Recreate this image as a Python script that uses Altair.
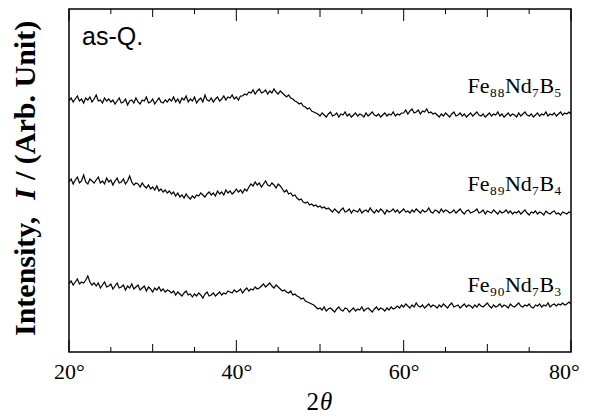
import altair as alt
import pandas as pd
import numpy as np

# ---- data (values in arbitrary intensity units) ----
series_names = ["Fe88Nd7B5", "Fe89Nd7B4", "Fe90Nd7B3"]
label_texts = ["Fe₈₈Nd₇B₅", "Fe₈₉Nd₇B₄", "Fe₉₀Nd₇B₃"]
label_I = [259, 161, 60]
label_theta = 78.9

top_vals = [
    251, 254, 250, 253, 256, 251, 253, 249, 254, 252, 255, 250, 253, 257, 251, 252, 249, 254, 251, 253, 250,
    252, 248, 251, 254, 249, 250, 253, 247, 251, 252, 249, 254, 250, 248, 252, 251, 255, 249, 250, 253, 248, 251, 254, 250, 249, 252, 250, 253,
    251, 255, 250, 253, 249, 254, 252, 256, 250, 253, 251, 255, 249, 252, 254, 250, 257, 252, 251, 254, 250, 253, 255, 251,
    253, 256, 252, 255, 254, 257, 253, 255, 252, 256,
    256, 258, 257, 260,
    259, 262, 258, 261, 263, 259, 260, 262, 258, 261, 259, 263, 260, 258, 261, 259,
    257, 255, 257, 254, 253, 251,
    250, 248, 249, 246, 245, 243, 244, 241, 240, 239,
    238, 236, 239, 237, 235, 238, 240, 236, 237, 239, 235, 238, 237, 240, 236, 238, 235, 237, 239, 236,
    238, 237, 235, 239, 236, 238, 240, 237, 236, 238, 235, 237, 239, 236, 238, 237, 240, 236, 238, 237, 239,
    239, 242, 238, 241, 243, 239, 240, 242, 238, 241, 240, 243, 239, 240, 238, 239,
    237, 235, 238, 236, 239, 237, 235, 238, 240, 236, 237, 239, 236, 238, 235, 237, 239, 236, 238, 240,
    237, 236, 238, 235, 237, 239, 236, 238, 237, 240, 236, 238, 235, 237, 239, 236, 238, 237, 235, 239,
    236, 238, 240, 237, 236, 238, 235, 237, 239, 236, 238, 237, 240, 236, 238, 237, 239, 236, 238, 240,
    237, 239, 238, 240, 238,
]
mid_vals = [
    170, 173, 168, 172, 175, 169, 171, 177, 170, 168, 173, 171, 169,
    172, 175, 169, 171, 168, 174, 170, 172, 167, 171, 174, 169, 170, 173, 168, 171, 176, 170, 167, 169,
    168, 165, 169, 166, 164, 167, 163, 165, 162, 166, 161, 163, 160, 162, 159, 161,
    158, 160, 156, 159, 155, 157, 154, 158, 155, 153, 156, 154, 157,
    156, 159, 157, 155, 158, 160, 157, 159, 156, 161, 158, 160, 157, 162, 159, 161, 158, 160, 163, 160, 162, 159, 163, 161,
    165, 168, 166, 170, 167, 169, 165, 168, 171, 167, 166, 169, 167, 164, 168, 166,
    163, 160, 162, 158, 159, 156, 157, 154, 152, 153, 150,
    149, 150, 147, 148, 146, 147, 145, 146, 144, 145, 143, 144,
    142, 140, 143, 141, 139, 142, 144, 140, 141, 143, 139, 142, 141, 140, 143, 139, 141, 142, 140, 144,
    141, 139, 142, 140, 143, 141, 138, 142, 140, 141, 143, 140, 142, 139, 141, 143, 140, 141, 139, 142,
    140, 143, 141, 139, 142, 140, 141, 144, 140, 139, 142, 141, 139, 143, 140, 142, 141, 139, 140, 142,
    139, 141, 143, 140, 138, 141, 142, 139, 140, 141, 143, 139, 140, 142, 138, 141, 140, 139, 142, 140,
    138, 141, 139, 140, 142, 139, 141, 138, 140, 139, 141, 138, 140, 142, 139, 137, 140, 139, 141, 138,
    140, 139, 137, 141, 139, 138, 140, 141, 138, 139, 137, 140, 139, 138, 140, 139,
]
bot_vals = [
    68, 71, 67, 70, 73, 68, 70, 69, 72, 76, 70, 67, 69,
    66, 69, 64, 67, 70, 65, 66, 68, 63, 66, 69, 64, 65, 67, 62, 66, 64, 68, 63, 65,
    67, 62, 64, 66, 61, 65, 63, 60, 64, 62, 65, 61, 63, 60, 62, 61,
    59, 61, 57, 60, 58, 56, 59, 61, 57, 58, 55, 58, 56, 59, 57, 54, 58, 60, 56, 57,
    59, 56, 58, 60, 57, 59, 58, 61,
    60, 59, 62, 60, 61, 63, 59, 62, 64, 61, 63, 62, 65, 63, 64,
    66, 68, 65, 67, 69, 66, 64, 67, 65,
    63, 61, 62, 60, 59, 61, 57, 58, 56, 55, 53, 54, 51, 50, 49, 48, 47,
    45, 43, 44, 42, 45, 41, 43, 44, 42, 40, 43, 45, 42, 41, 44, 43, 40, 42, 44, 41,
    43, 42, 45, 41, 43, 44, 42, 40, 43, 45, 42, 44, 43, 41, 44, 42, 45, 43, 44,
    46, 44, 47, 45, 48, 46, 44, 47, 45, 49, 46, 45, 47, 44, 46, 48, 45, 47, 46, 44,
    47, 45, 48, 46, 44, 47, 49, 45, 46, 47, 44, 46, 48, 45, 47, 46, 44, 47, 45, 48,
    46, 45, 47, 49, 46, 44, 47, 45, 46, 48, 45, 47, 46, 44, 48, 46, 45, 47, 49, 46,
    45, 47, 46, 48, 45, 44, 47, 46, 48, 45, 47, 46, 49, 45, 47, 48, 46, 48, 47, 49,
    47, 48, 50, 48,
]

x_label_values = [20, 40, 60, 80]
major_ticks = [20, 40, 60, 80]
mid_ticks = [30, 50, 70]
minor_ticks = [25, 35, 45, 55, 65, 75]

# ---- build tables ----
rows = []
for name, vals in zip(series_names, [top_vals, mid_vals, bot_vals]):
    th = np.linspace(20, 80, len(vals))
    for t, v in zip(th, vals):
        rows.append({"series": name, "theta": float(t), "I": v})
df = pd.DataFrame(rows)
lab_df = pd.DataFrame({"theta": [label_theta] * 3, "I": label_I, "text": label_texts})

W, H = 502, 343
SERIF = "Liberation Serif"

xs = alt.Scale(domain=[20, 80], nice=False, zero=False)
ys = alt.Scale(domain=[0, 343], nice=False, zero=False)

x_axis = alt.Axis(
    values=x_label_values, labelExpr="datum.value + '°'", ticks=False, domain=False, grid=False,
    labelFont=SERIF, labelFontSize=22, labelColor="black", labelPadding=9, labelFlush=False,
    labelOffset={"condition": {"test": "datum.value == 80", "value": -7}, "value": 0},
    title=None,
)
y_axis = alt.Axis(ticks=False, labels=False, domain=False, grid=False, title=None)

lines = alt.Chart(df).mark_line(color="black", strokeWidth=1.2).encode(
    x=alt.X("theta:Q", scale=xs, axis=x_axis),
    y=alt.Y("I:Q", scale=ys, axis=y_axis),
    detail="series:N",
)

labels = alt.Chart(lab_df).mark_text(
    align="right", baseline="alphabetic", font=SERIF, fontSize=22, color="black"
).encode(
    x=alt.X("theta:Q", scale=xs, axis=x_axis),
    y=alt.Y("I:Q", scale=ys, axis=y_axis),
    text="text:N",
)


def txt(s, x, y, **kw):
    return alt.Chart(pd.DataFrame({"t": [s]})).mark_text(color="black", **kw).encode(
        x=alt.value(x), y=alt.value(y), text="t:N"
    )


asq = txt("as-Q.", 13, 36, align="left", baseline="alphabetic", font="Liberation Sans", fontSize=25)

# x title: "2" upright + italic theta
xt1 = txt("2", 250, 401, align="right", baseline="alphabetic", font=SERIF, fontSize=25)
xt2 = txt("θ", 251, 401, align="left", baseline="alphabetic", font=SERIF, fontSize=25, fontStyle="italic")

# y title: "Intensity, " bold + "I" bold italic + " / (Arb. Unit)" bold, rotated
YX = -34
YFS = 30
yt1 = txt("Intensity,", YX, 327, align="left", baseline="alphabetic", font=SERIF, fontSize=YFS,
          fontWeight="bold", angle=270)
yt2 = txt("I", YX, 191, align="left", baseline="alphabetic", font=SERIF, fontSize=YFS,
          fontWeight="bold", fontStyle="italic", angle=270)
yt3 = txt("/ (Arb. Unit)", YX, 171, align="left", baseline="alphabetic", font=SERIF, fontSize=YFS,
          fontWeight="bold", angle=270)


def tick_layers(vals, L):
    d = pd.DataFrame({"theta": vals})
    bottom = alt.Chart(d).mark_rule(color="black", strokeWidth=1).encode(
        x=alt.X("theta:Q", scale=xs, axis=x_axis), y=alt.value(H), y2=alt.value(H - L)
    )
    top = alt.Chart(d).mark_rule(color="black", strokeWidth=1).encode(
        x=alt.X("theta:Q", scale=xs, axis=x_axis), y=alt.value(0), y2=alt.value(L)
    )
    return [bottom, top]


layers = [lines, labels, asq, xt1, xt2, yt1, yt2, yt3]
layers += tick_layers(major_ticks, 12)
layers += tick_layers(mid_ticks, 8)
layers += tick_layers(minor_ticks, 5)

chart = alt.layer(*layers).properties(
    width=W, height=H,
    autosize=alt.AutoSizeParams(type="none"),
    padding={"left": 61, "top": 1, "right": 10, "bottom": 66},
    background="white",
).configure_view(stroke="black", strokeWidth=1.5)

chart.save("out.html", embed_options={"renderer": "svg", "actions": False})
